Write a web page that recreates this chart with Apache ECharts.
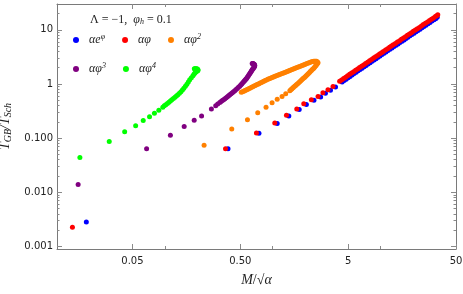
<!DOCTYPE html>
<html>
<head>
<meta charset="utf-8">
<script src="https://cdn.jsdelivr.net/npm/echarts@6.0.0/dist/echarts.min.js"></script>
<style>html,body{margin:0;padding:0;background:#fff;}#c{width:463px;height:294px;}</style>
</head>
<body>
<div id="c"></div>
<script>
// ---- data ----
const seriesNames = ['αe^φ', 'αφ', 'αφ²', 'αφ³', 'αφ⁴'];
const seriesColors = ['#0000ff', '#ff0000', '#ff8000', '#800080', '#00ff00'];

const blueX = [0.0187, 0.385, 0.745, 1.10, 1.41, 1.76, 2.05, 2.41, 2.78, 3.08, 3.43, 3.82,
  4.40, 4.59, 4.79, 5.00, 5.21, 5.44, 5.68, 5.93, 6.18, 6.45, 6.73, 7.03, 7.33, 7.65, 7.99, 8.33, 8.69, 9.07, 9.46, 9.87,
  10.3, 10.75, 11.2, 11.7, 12.2, 12.75, 13.3, 13.9, 14.5, 15.1, 15.8, 16.5, 17.2, 17.9, 18.7, 19.5, 20.4, 21.3, 22.2, 23.2,
  24.2, 25.2, 26.3, 27.5, 28.7, 29.9, 31.2, 32.4, 33.5];
const blueY = [0.00283, 0.0635, 0.123, 0.187, 0.258, 0.339, 0.420, 0.502, 0.578, 0.676, 0.767, 0.883,
  1.09, 1.16, 1.23, 1.30, 1.38, 1.47, 1.56, 1.65, 1.75, 1.85, 1.96, 2.08, 2.20, 2.33, 2.47, 2.62, 2.77, 2.94, 3.11, 3.30,
  3.49, 3.70, 3.91, 4.14, 4.38, 4.64, 4.91, 5.20, 5.49, 5.82, 6.16, 6.52, 6.90, 7.31, 7.74, 8.19, 8.67, 9.18, 9.71, 10.3,
  10.9, 11.5, 12.2, 12.9, 13.7, 14.5, 15.3, 16.1, 17.0];

const redX = [0.0139, 0.365, 0.706, 1.044, 1.34, 1.67, 1.94, 2.28, 2.63, 2.92, 3.25, 3.62,
  4.17, 4.35, 4.54, 4.74, 4.94, 5.16, 5.38, 5.62, 5.86, 6.12, 6.38, 6.66, 6.95, 7.25, 7.57, 7.90, 8.24, 8.60, 8.97, 9.36,
  9.77, 10.2, 10.6, 11.1, 11.6, 12.1, 12.6, 13.1, 13.7, 14.3, 15.0, 15.6, 16.3, 17.0, 17.7, 18.5, 19.3, 20.1, 21.0, 21.9,
  22.9, 23.9, 24.9, 26.0, 27.2, 28.4, 29.6, 30.9, 32.2, 33.1, 33.9];
const redY = [0.00226, 0.0635, 0.125, 0.191, 0.264, 0.347, 0.430, 0.514, 0.591, 0.692, 0.785, 0.903,
  1.12, 1.19, 1.26, 1.34, 1.42, 1.51, 1.60, 1.69, 1.79, 1.90, 2.01, 2.13, 2.25, 2.39, 2.53, 2.68, 2.84, 3.01, 3.18, 3.37,
  3.57, 3.78, 4.00, 4.24, 4.48, 4.75, 5.02, 5.31, 5.62, 5.95, 6.30, 6.67, 7.06, 7.48, 7.92, 8.38, 8.87, 9.39, 9.93, 10.5,
  11.1, 11.8, 12.5, 13.2, 14.0, 14.8, 15.7, 16.6, 17.6, 18.2, 18.9];

const orangeX = [0.231, 0.417, 0.583, 0.726, 0.867, 0.986, 1.10, 1.22, 1.32, 1.44, 1.47, 1.50, 1.53, 1.56, 1.595, 1.63, 1.665, 1.70, 1.74, 1.78, 1.82, 1.86, 1.90, 1.94, 1.98, 2.02, 2.065, 2.11, 2.155, 2.20, 2.24, 2.28, 2.325, 2.37, 2.41, 2.45, 2.49, 2.53, 2.58, 2.63, 2.60, 2.55, 2.50, 2.45, 2.40, 2.35, 2.29, 2.23, 2.17, 2.11, 2.05, 2.00, 1.95, 1.90, 1.85, 1.80, 1.75, 1.70, 1.655, 1.61, 1.57, 1.53, 1.49, 1.45, 1.415, 1.38, 1.345, 1.31, 1.275, 1.24, 1.205, 1.17, 1.14, 1.11, 1.08, 1.05, 1.025, 1.00, 0.975, 0.95, 0.925, 0.90, 0.875, 0.85, 0.828, 0.807, 0.786, 0.765, 0.745, 0.726, 0.707, 0.689, 0.671, 0.653, 0.636, 0.620, 0.604, 0.588, 0.574, 0.560, 0.549, 0.538, 0.524, 0.511];
const orangeY = [0.0740, 0.148, 0.218, 0.296, 0.374, 0.453, 0.525, 0.591, 0.662, 0.753, 0.78, 0.81, 0.84, 0.873, 0.905, 0.94, 0.975, 1.01, 1.055, 1.10, 1.15, 1.20, 1.245, 1.29, 1.34, 1.39, 1.455, 1.52, 1.585, 1.65, 1.715, 1.78, 1.845, 1.91, 1.985, 2.06, 2.14, 2.22, 2.34, 2.47, 2.56, 2.63, 2.63, 2.62, 2.62, 2.61, 2.57, 2.52, 2.47, 2.42, 2.37, 2.32, 2.27, 2.22, 2.175, 2.13, 2.085, 2.04, 1.995, 1.95, 1.91, 1.87, 1.83, 1.79, 1.755, 1.72, 1.685, 1.65, 1.615, 1.58, 1.545, 1.51, 1.48, 1.45, 1.42, 1.39, 1.36, 1.33, 1.305, 1.28, 1.25, 1.22, 1.19, 1.16, 1.13, 1.10, 1.07, 1.04, 1.015, 0.99, 0.965, 0.94, 0.916, 0.892, 0.869, 0.846, 0.823, 0.801, 0.785, 0.77, 0.753, 0.737, 0.721, 0.706];

const purpleX = [0.0157, 0.0677, 0.1125, 0.151, 0.187, 0.219, 0.270, 0.296, 0.309, 0.323, 0.332, 0.341, 0.350, 0.360, 0.370, 0.380, 0.390, 0.400, 0.411, 0.422, 0.433, 0.445, 0.457, 0.469, 0.481, 0.494, 0.505, 0.516, 0.527, 0.538, 0.547, 0.556, 0.565, 0.574, 0.583, 0.593, 0.602, 0.612, 0.620, 0.629, 0.637, 0.645, 0.653, 0.661, 0.668, 0.675, 0.679, 0.681, 0.678, 0.672, 0.666, 0.659, 0.652, 0.645];
const purpleY = [0.0140, 0.0635, 0.113, 0.164, 0.214, 0.258, 0.347, 0.398, 0.427, 0.458, 0.476, 0.494, 0.514, 0.535, 0.558, 0.582, 0.608, 0.635, 0.663, 0.692, 0.722, 0.753, 0.79, 0.828, 0.868, 0.911, 0.955, 1.00, 1.05, 1.10, 1.145, 1.19, 1.235, 1.28, 1.345, 1.41, 1.48, 1.55, 1.62, 1.69, 1.76, 1.83, 1.895, 1.96, 2.02, 2.08, 2.14, 2.20, 2.26, 2.31, 2.34, 2.37, 2.38, 2.38];

const greenX = [0.0163, 0.0305, 0.0424, 0.0536, 0.0630, 0.0721, 0.0800, 0.0879, 0.0957, 0.0988, 0.102, 0.1055, 0.109, 0.1125, 0.116, 0.120, 0.124, 0.128, 0.132, 0.1365, 0.141, 0.1455, 0.150, 0.155, 0.160, 0.165, 0.170, 0.176, 0.182, 0.186, 0.190, 0.194, 0.198, 0.201, 0.203, 0.202, 0.200, 0.197, 0.193, 0.190, 0.1875];
const greenY = [0.0440, 0.0865, 0.131, 0.169, 0.211, 0.250, 0.290, 0.329, 0.374, 0.395, 0.416, 0.439, 0.462, 0.488, 0.514, 0.542, 0.571, 0.602, 0.635, 0.677, 0.722, 0.777, 0.837, 0.91, 0.99, 1.09, 1.20, 1.31, 1.42, 1.51, 1.60, 1.66, 1.72, 1.76, 1.80, 1.85, 1.89, 1.91, 1.92, 1.92, 1.91];

const xTickValues = [0.05, 0.5, 5, 50];
const xTickLabels = ['0.05', '0.50', '5', '50'];
const xMinorTicks = [0.1, 1, 10];
const yTickValues = [0.001, 0.01, 0.1, 1, 10];
const yTickLabels = ['0.001', '0.010', '0.100', '1', '10'];
const yMinorTicks = [0.002, 0.003, 0.004, 0.005, 0.006, 0.007, 0.008, 0.009,
  0.02, 0.03, 0.04, 0.05, 0.06, 0.07, 0.08, 0.09,
  0.2, 0.3, 0.4, 0.5, 0.6, 0.7, 0.8, 0.9,
  2, 3, 4, 5, 6, 7, 8, 9, 20];
const xRange = [0.01, 50];
const yRange = [0.0009, 30];

// ---- chart ----
const xs = [blueX, redX, orangeX, purpleX, greenX];
const ys = [blueY, redY, orangeY, purpleY, greenY];

function pick(vals, labels) {
  return function (v) {
    let best = 0, bd = Infinity;
    for (let i = 0; i < vals.length; i++) {
      const d = Math.abs(Math.log10(v) - Math.log10(vals[i]));
      if (d < bd) { bd = d; best = i; }
    }
    return labels[best];
  };
}

const frameColor = '#7a7a7a';
const tickColor = '#8a8a8a';
const labelStyle = { fontFamily: 'DejaVu Sans', fontSize: 10, color: '#222' };

function axis(type, pos, range, ticks, len, labels, showLine) {
  return {
    type: 'log', logBase: 10, min: range[0], max: range[1], position: pos,
    axisLine: { show: showLine, lineStyle: { color: frameColor, width: 1 } },
    axisTick: { show: true, inside: true, length: len, customValues: ticks, lineStyle: { color: tickColor, width: 1 } },
    axisLabel: labels ? Object.assign({ show: true, customValues: ticks, formatter: labels, margin: type === 'x' ? 7 : 4 }, labelStyle) : { show: false },
    splitLine: { show: false }, minorTick: { show: false }, minorSplitLine: { show: false }
  };
}

const serif = 'Liberation Serif';
const legendRich = {
  sp: { width: 5 },
  n: { fontFamily: serif, fontStyle: 'italic', fontWeight: 'normal', fontSize: 12, color: '#222' },
  s: { fontFamily: serif, fontStyle: 'italic', fontWeight: 'normal', fontSize: 8, color: '#222', verticalAlign: 'top', padding: [0, 0, 6, 0] }
};
const legendText = {
  'αe^φ': '{sp| }{n|αe}{s|φ}',
  'αφ': '{sp| }{n|αφ}',
  'αφ²': '{sp| }{n|αφ}{s|2}',
  'αφ³': '{sp| }{n|αφ}{s|3}',
  'αφ⁴': '{sp| }{n|αφ}{s|4}'
};
function legend(names, top) {
  return {
    data: names, left: 73, top: top, orient: 'horizontal', icon: 'circle',
    itemWidth: 6, itemHeight: 6, itemGap: 17, padding: 0, selectedMode: false,
    formatter: n => legendText[n],
    textStyle: { rich: legendRich }
  };
}

const chart = echarts.init(document.getElementById('c'), null, { renderer: 'canvas' });
chart.setOption({
  animation: false,
  backgroundColor: '#fff',
  title: {
    text: '{u|Λ = −1,  }{n|φ}{b|h}{u| = 0.1}',
    left: 90, top: 13, padding: 0,
    textStyle: {
      fontWeight: 'normal',
      rich: {
        u: { fontFamily: serif, fontWeight: 'normal', fontSize: 12, color: '#222' },
        n: { fontFamily: serif, fontStyle: 'italic', fontWeight: 'normal', fontSize: 12, color: '#222' },
        b: { fontFamily: serif, fontStyle: 'italic', fontWeight: 'normal', fontSize: 8, color: '#222', verticalAlign: 'bottom', padding: [5, 0, 0, 0] }
      }
    }
  },
  legend: [legend(seriesNames.slice(0, 3), 33), legend(seriesNames.slice(3), 62)],
  grid: { left: 57, right: 7, top: 4, bottom: 45, containLabel: false, outerBoundsMode: 'none' },
  xAxis: [
    Object.assign(axis('x', 'bottom', xRange, xTickValues, 5, pick(xTickValues, xTickLabels), true), {
      name: '{i|M}{u|/√}{i|α}', nameLocation: 'middle', nameGap: 24,
      nameTextStyle: { rich: {
        i: { fontFamily: serif, fontStyle: 'italic', fontSize: 14, color: '#222' },
        u: { fontFamily: serif, fontSize: 14, color: '#222' } } }
    }),
    axis('x', 'bottom', xRange, xMinorTicks, 3, null, false),
    axis('x', 'top', xRange, xTickValues, 5, null, true),
    axis('x', 'top', xRange, xMinorTicks, 3, null, false)
  ],
  yAxis: [
    Object.assign(axis('y', 'left', yRange, yTickValues, 5, pick(yTickValues, yTickLabels), true), {
      name: '{i|T}{s|GB}{i|/T}{s|Sch}', nameLocation: 'middle', nameGap: 36, nameRotate: 90,
      nameTextStyle: { rich: {
        i: { fontFamily: serif, fontStyle: 'italic', fontSize: 14, color: '#222' },
        s: { fontFamily: serif, fontStyle: 'italic', fontSize: 10, color: '#222', verticalAlign: 'bottom', padding: [6, 0, 0, 0] } } }
    }),
    axis('y', 'left', yRange, yMinorTicks, 2.5, null, false),
    axis('y', 'right', yRange, yTickValues, 5, null, true),
    axis('y', 'right', yRange, yMinorTicks, 2.5, null, false)
  ],
  series: seriesNames.map((name, k) => ({
    name: name, type: 'scatter', xAxisIndex: 0, yAxisIndex: 0,
    symbol: 'circle', symbolSize: 5,
    itemStyle: { color: seriesColors[k], opacity: 1 },
    data: xs[k].map((x, i) => [x, ys[k][i]]),
    z: 2 + k
  }))
});
</script>
</body>
</html>
